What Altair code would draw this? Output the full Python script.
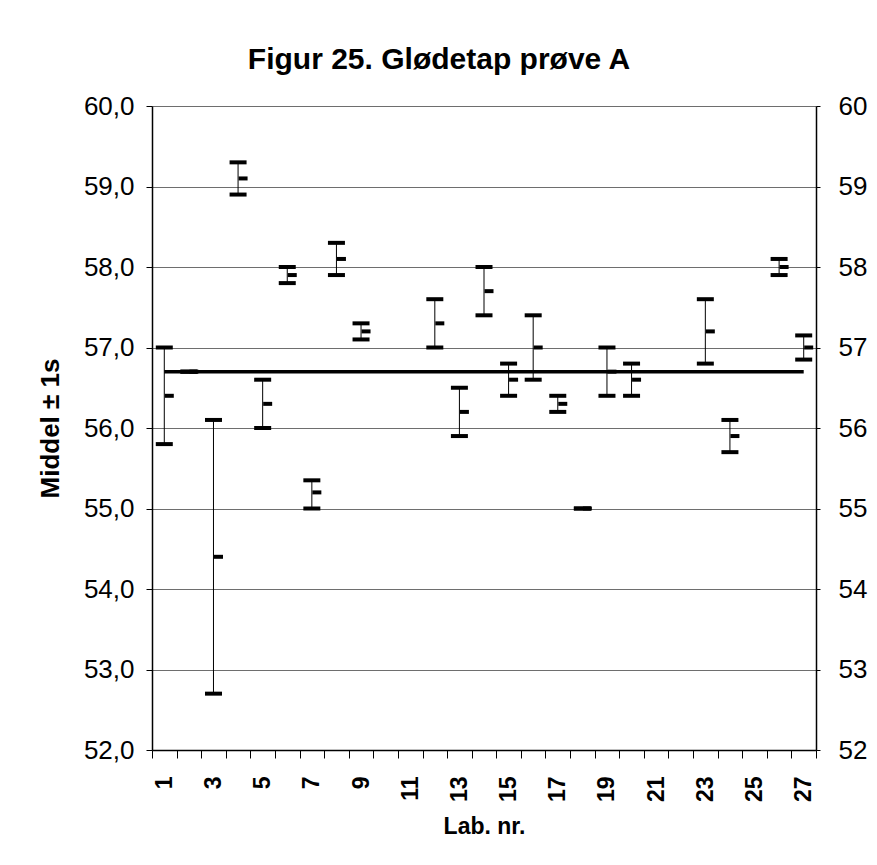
import altair as alt
import pandas as pd

labs = [1, 2, 3, 4, 5, 6, 7, 8, 9, 12, 13, 14, 15, 16, 17, 18, 19, 20, 23, 24, 26, 27]
high = [57.0, 56.7, 56.1, 59.3, 56.6, 58.0, 55.35, 58.3, 57.3, 57.6, 56.5, 58.0,
        56.8, 57.4, 56.4, 55.0, 57.0, 56.8, 57.6, 56.1, 58.1, 57.15]
low = [55.8, 56.7, 52.7, 58.9, 56.0, 57.8, 55.0, 57.9, 57.1, 57.0, 55.9, 57.4,
       56.4, 56.6, 56.2, 55.0, 56.4, 56.4, 56.8, 55.7, 57.9, 56.85]
mean = [56.4, 56.7, 54.4, 59.1, 56.3, 57.9, 55.2, 58.1, 57.2, 57.3, 56.2, 57.7,
        56.6, 57.0, 56.3, 55.0, 56.7, 56.6, 57.2, 55.9, 58.0, 57.0]

all_labs = list(range(1, 28))
overall_mean = 56.7
y_ticks = [52, 53, 54, 55, 56, 57, 58, 59, 60]

df = pd.DataFrame({"lab": labs, "high": high, "low": low, "mean": mean})
line_df = pd.DataFrame({"x1": [all_labs[0]], "x2": [all_labs[-1]], "y": [overall_mean]})

FONT = "Liberation Sans, Arial, sans-serif"

xscale = alt.Scale(type="band", domain=all_labs, paddingInner=0, paddingOuter=0)
yscale = alt.Scale(domain=[52, 60], nice=False, zero=False)

x_axis = alt.Axis(
    title="Lab. nr.",
    titleFontSize=23, titleFontWeight="bold", titleFont=FONT, titleColor="black",
    titlePadding=14,
    labelAngle=270, labelFontSize=23, labelFontWeight="bold", labelFont=FONT,
    labelColor="black", labelPadding=18,
    labelExpr="datum.value % 2 == 1 ? datum.label : ''",
    tickBand="extent", tickSize=8, tickColor="black", tickWidth=1,
    domainColor="black", domainWidth=1.5, grid=False,
)

left_axis = alt.Axis(
    title="Middel ± 1s", orient="left",
    titleFontSize=26, titleFontWeight="bold", titleFont=FONT, titleColor="black",
    titlePadding=20,
    values=y_ticks,
    labelExpr="replace(format(datum.value, '.1f'), '.', ',')",
    labelFontSize=26, labelFont=FONT, labelColor="black", labelPadding=12,
    tickSize=6, tickColor="black",
    domainColor="black", domainWidth=1.5,
    grid=True, gridColor="#6e6e6e", gridWidth=1,
)

right_axis = alt.Axis(
    title=None, orient="right",
    values=y_ticks, format="d",
    labelFontSize=26, labelFont=FONT, labelColor="black", labelPadding=18,
    tickSize=4, tickColor="black",
    domainColor="black", domainWidth=1.5, grid=False,
)

bars = alt.Chart(df).mark_rule(color="black", strokeWidth=1).encode(
    x=alt.X("lab:O", scale=xscale, axis=x_axis),
    y=alt.Y("low:Q", scale=yscale, axis=left_axis),
    y2="high:Q",
)

caps_hi = alt.Chart(df).mark_tick(color="black", size=17, thickness=4, opacity=1).encode(
    x=alt.X("lab:O", scale=xscale, axis=x_axis),
    y=alt.Y("high:Q", scale=yscale, axis=None),
)
caps_lo = alt.Chart(df).mark_tick(color="black", size=17, thickness=4, opacity=1).encode(
    x=alt.X("lab:O", scale=xscale, axis=x_axis),
    y=alt.Y("low:Q", scale=yscale, axis=None),
)
means = alt.Chart(df).mark_tick(color="black", size=9, thickness=4, xOffset=5, opacity=1).encode(
    x=alt.X("lab:O", scale=xscale, axis=x_axis),
    y=alt.Y("mean:Q", scale=yscale, axis=None),
)

mean_line = alt.Chart(line_df).mark_rule(color="black", strokeWidth=3.5).encode(
    x=alt.X("x1:O", scale=xscale, axis=x_axis, bandPosition=0.5),
    x2=alt.X2("x2", bandPosition=0.5),
    y=alt.Y("y:Q", scale=yscale, axis=right_axis),
)

chart = alt.layer(bars, caps_hi, caps_lo, means, mean_line).resolve_axis(
    y="independent"
).properties(
    width=664,
    height=644,
    autosize=alt.AutoSizeParams(type="none"),
    padding={"left": 144, "top": 98, "right": 53, "bottom": 100},
    title=alt.Title(
        "Figur 25. Glødetap prøve A",
        fontSize=30, fontWeight="bold", font=FONT, color="black",
        anchor="middle", offset=18, dx=-45,
    ),
).configure_view(
    stroke="black", strokeWidth=1.5
).configure(background="white")

chart.save("out.html", embed_options={"renderer": "svg", "actions": False})
